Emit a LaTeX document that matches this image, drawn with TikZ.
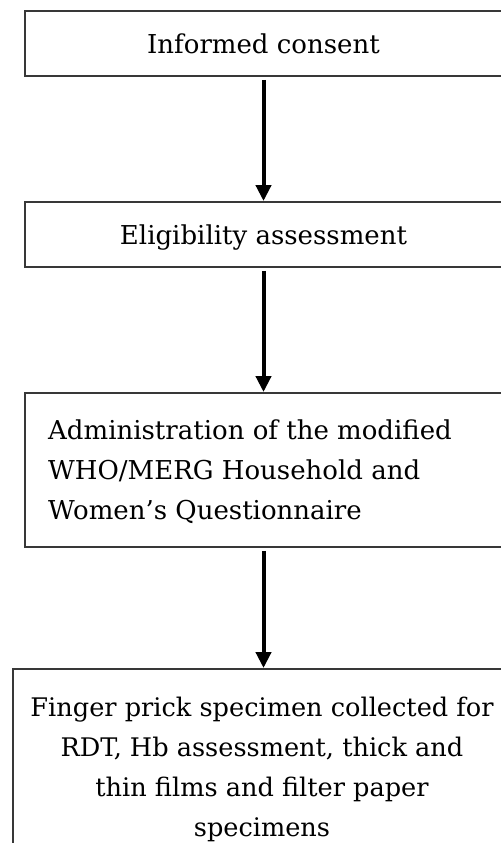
\documentclass[tikz,border=0pt]{standalone}
\usepackage{fontspec}
\setmainfont{DejaVu Serif}
\usetikzlibrary{arrows.meta}

\tikzset{
  stepbox/.style={draw=black!78, line width=1.9bp, rectangle, inner sep=0pt},
  steptext/.style={inner sep=0pt, font=\fontsize{26bp}{40bp}\selectfont, text=black},
  flow/.style={line width=4bp, black, -{Triangle[length=16bp,width=15bp]}, shorten <=3bp}
}

\begin{document}
\begin{tikzpicture}[x=1bp,y=-1bp]
  \useasboundingbox (0,0) rectangle (501,843);
  \fill[white] (0,0) rectangle (501,843);
  \clip (0,0) rectangle (501,843);

  % step boxes (they run off the right and bottom edges)
  \node[stepbox, steptext, minimum width=477bp, minimum height=65bp, text height=20bp, text depth=0pt]
    (b1) at (263.5,43.5) {Informed consent};
  \node[stepbox, steptext, minimum width=477bp, minimum height=65bp, text height=20bp, text depth=0pt]
    (b2) at (263.5,234.5) {Eligibility assessment};
  \node[stepbox, minimum width=477bp, minimum height=154bp] (b3) at (263.5,470) {};
  \node[stepbox, minimum width=500bp, minimum height=240bp] (b4) at (263,789) {};

  % texts of the two larger boxes (base anchor sits on the last line)
  \node[steptext, anchor=base west, align=left] (t3) at (48,519)
    {Administration of the modified\\WHO/MERG Household and\\Women’s Questionnaire};
  \node[steptext, font=\fontsize{25.6bp}{40bp}\selectfont, anchor=base, align=center] (t4) at (262,836)
    {Finger prick specimen collected for\\RDT, Hb assessment, thick and\\thin films and filter paper\\specimens};

  % arrows between the steps
  \draw[flow] (b1.south) -- (b2.north);
  \draw[flow] (b2.south) -- (b3.north);
  \draw[flow] (b3.south) -- (b3.south |- b4.north);
\end{tikzpicture}
\end{document}
